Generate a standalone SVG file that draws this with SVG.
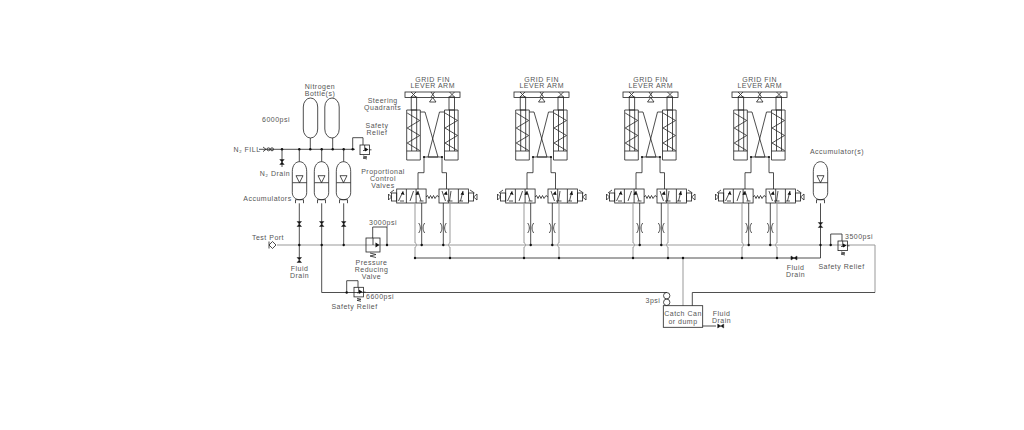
<svg xmlns="http://www.w3.org/2000/svg" width="1024" height="430" viewBox="0 0 1024 430">
<style>
.l{fill:none;stroke:#222;stroke-width:.8}
.g{fill:none;stroke:#999;stroke-width:1}
.t{fill:#555;font-family:"Liberation Sans",Arial,sans-serif;font-size:7px;letter-spacing:.5px;text-anchor:middle}
.d{fill:#111}
.b{fill:#111;stroke:#222;stroke-width:.5}
</style>
<defs>
<g id="bowV"><path class="b" d="M-2.2 -2.5H2.2L-2.2 2.5H2.2Z"/></g>
<g id="bowH"><path class="b" d="M-3 -2L3 2V-2L-3 2Z"/></g>
<g id="acc">
<path class="l" d="M-4 41.500V38H4V41.500M-7.200 21V10C-7.200 3 -3.500 0 0 0C3.500 0 7.200 3 7.200 10V31C7.200 35 4 38 0 38C-4 38 -7.200 35 -7.200 31V21ZM-7.200 21H7.200M-3.500 14H3.500L0 21Z"/>
</g>
<g id="bottle"><rect class="l" x="-7.200" y="0" width="14.400" height="40" rx="7.200" ry="9"/></g>
<g id="relief">
<rect class="l" x="0" y="0" width="9.400" height="9.600"/>
<path class="l" d="M4.700 0V5M3 5.500H6.500M9.400 4.800H11.500M3 11L7 12L3 13L7 14"/>
<path class="d" d="M5 2.500L8.500 4.500L5 6.500Z"/>
</g>
<g id="restrict"><path class="l" d="M-3 -5C-.8 -2 -.8 2 -3 5M3 -5C.8 -2 .8 2 3 5"/></g>
<g id="cyl">
<path class="l" d="M0 0H13.600V50H0ZM0 41H13.600M0.500 3L13 10.500L0.500 18L13 25.500L0.500 33L13 40.500M5 0V41M10 0V41"/>
<rect class="l" x="4.500" y="-13" width="5.500" height="13"/>
</g>
<g id="valve">
<rect class="l" x="0" y="0" width="29.400" height="14"/>
<path class="l" d="M9.700 0V14M19.400 0V14"/>
</g>
<g id="unit">
<rect class="l" x="405" y="92" width="55" height="5.500"/>
<path class="l" d="M429.500 102L432.700 97.500L436 102ZM431 92L434.500 97M434.500 92L431 97"/>
<path class="l" d="M411 92L416 97M416 92L411 97M449.500 92L454.500 97M454.500 92L449.500 97"/>
<use href="#cyl" x="406.700" y="110"/>
<use href="#cyl" x="444.500" y="110"/>
<path class="l" d="M420.300 112H425L438 157H424M444.500 112H439.500L428 157H442M424 157V172.700H418V189M442 157V172.700H446.500V189"/>
<circle class="d" cx="424" cy="157" r="1.100"/><circle class="d" cx="442" cy="157" r="1.100"/>
<use href="#valve" x="396.700" y="189"/>
<use href="#valve" x="439" y="189"/>
<path class="l" d="M403 191.500L398.500 201M410 201L413.500 191M421 201L418 191M400 201H404M419.500 201H423.500M463 191L460.500 201M442 191L445.500 201M451 191L449.500 201M447 201H452.500M459 201H463"/>
<path class="d" d="M417 191L419.500 194.500L415.500 195ZM403 191L404.500 195L401 194ZM446.500 191L447.500 195L443.500 194.500ZM463 191L464 195L460.500 194.500Z"/>
<path class="l" d="M426 197L427.500 195.500L429 198.500L430.500 195.500L432 198.500L433.500 195.500L435 198.500L437 195.500L439 197"/>
<rect class="l" x="391.500" y="193" width="5.200" height="8"/>
<rect class="l" x="468.400" y="193" width="5.200" height="8"/>
<path class="l" d="M391.500 197L388.500 194V200ZM473.600 197L477 194V200ZM470 190L474.500 193M394 190L390 193"/>
<path class="g" d="M415 203V243C417 243 417 247 415 247V258"/>
<path class="g" d="M450 203V243C448 243 448 247 450 247V258"/>
<path class="l" d="M421.700 203V245M443.300 203V245"/>
<use href="#restrict" x="421.700" y="228"/>
<use href="#restrict" x="443.300" y="228"/>
<g class="d"><circle cx="421.700" cy="245" r="1.200"/><circle cx="443.300" cy="245" r="1.200"/><circle cx="415" cy="258" r="1.200"/><circle cx="450" cy="258" r="1.200"/></g>
</g>
</defs>
<rect width="1024" height="430" fill="#fff"/>

<g id="connectors">
<path class="g" d="M277 245H875V292.500"/>
<path class="l" d="M875 292.500H692.300V305.700"/>
<path class="l" d="M415 258H820.500V203.300"/>
<path class="g" d="M683 258V305.700"/>
<path class="l" d="M259 149.300H355M282 149.300V167M310.300 138V149.300M332.700 138V149.300"/>
<path class="l" d="M299.300 149.300V161.700M321.700 149.300V161.700M343.700 149.300V161.700"/>
<path class="l" d="M299.300 203.300V258M321.700 203.300V292.500H667M343.700 203.300V245"/>
<path class="l" d="M352.700 149.300V137.700H363V145M387 245V227H372.700V238M346.700 292.500V280.700H358V287.300M830.700 245V234H842V241"/>
<path class="l" d="M702.700 326H716"/>
<use href="#bowH" x="794" y="258"/>
<use href="#bowV" x="282" y="162"/>
<use href="#bowV" x="299.300" y="224"/>
<use href="#bowV" x="321.700" y="224"/>
<use href="#bowV" x="343.700" y="224"/>
<use href="#bowV" x="299.300" y="260"/>
<use href="#bowV" x="820.500" y="225"/>
<use href="#bowH" x="720.700" y="326"/>
<path class="l" d="M263 147L266 149.300L263 151.600"/>
<circle class="l" cx="268.500" cy="149.300" r="1.500"/><circle class="l" cx="272" cy="149.300" r="1.500"/>
<g class="d">
<circle cx="282" cy="149.300" r="1.200"/><circle cx="299.300" cy="149.300" r="1.200"/><circle cx="310.300" cy="149.300" r="1.200"/><circle cx="321.700" cy="149.300" r="1.200"/><circle cx="332.700" cy="149.300" r="1.200"/><circle cx="343.700" cy="149.300" r="1.200"/><circle cx="352.700" cy="149.300" r="1.200"/>
<circle cx="299.300" cy="245" r="1.200"/><circle cx="321.700" cy="245" r="1.200"/><circle cx="343.700" cy="245" r="1.200"/><circle cx="387" cy="245" r="1.200"/><circle cx="346.700" cy="292.500" r="1.200"/><circle cx="820.500" cy="245" r="1.200"/><circle cx="830.700" cy="245" r="1.200"/><circle cx="683" cy="258" r="1.200"/>
</g>
</g>

<g id="nitrogen-bottles">
<use href="#bottle" x="310.500" y="98"/>
<use href="#bottle" x="332" y="98"/>
<text class="t" x="320" y="89">Nitrogen</text>
<text class="t" x="320" y="95.500">Bottle(s)</text>
<text class="t" x="276" y="122">6000psi</text>
</g>
<g id="fill-drain">
<text class="t" x="247" y="152">N₂ FILL</text>
<text class="t" x="275" y="175.500">N₂ Drain</text>
</g>
<g id="accumulators">
<use href="#acc" x="299.500" y="161.700"/>
<use href="#acc" x="321.500" y="161.700"/>
<use href="#acc" x="343.500" y="161.700"/>
<text class="t" x="267.500" y="200.500">Accumulators</text>
</g>
<g id="relief-top">
<use href="#relief" x="360" y="145"/>
<text class="t" x="377" y="127.500">Safety</text>
<text class="t" x="377" y="134.500">Relief</text>
</g>
<g id="labels-left">
<text class="t" x="382.700" y="103">Steering</text>
<text class="t" x="382.700" y="110">Quadrants</text>
<text class="t" x="383" y="173.500">Proportional</text>
<text class="t" x="383" y="180.500">Control</text>
<text class="t" x="383" y="187.500">Valves</text>
</g>
<g id="test-port">
<path class="l" d="M269 241.500V248.500M269 245L272.500 241.500L276 245L272.500 248.500Z"/>
<text class="t" x="268" y="239.500">Test Port</text>
</g>
<g id="fluid-drain-left">
<text class="t" x="299.500" y="270.500">Fluid</text>
<text class="t" x="299.500" y="277.500">Drain</text>
</g>
<g id="reducing-valve">
<rect class="l" x="366" y="238" width="14" height="14"/>
<path class="l" d="M373 238V245M370 253L376 254.500L370 256L376 257.500"/>
<path class="d" d="M375.500 242.500L379.500 245L375.500 247.500Z"/>
<text class="t" x="383" y="225">3000psi</text>
<text class="t" x="371.500" y="265">Pressure</text>
<text class="t" x="371.500" y="272">Reducing</text>
<text class="t" x="371.500" y="279">Valve</text>
</g>
<g id="relief-low">
<use href="#relief" x="354" y="287.300"/>
<text class="t" x="380" y="299">6600psi</text>
<text class="t" x="354.500" y="309">Safety Relief</text>
</g>
<g id="unit-1"><use href="#unit"/><text class="t" x="432.700" y="81.500">GRID FIN</text><text class="t" x="432.700" y="88">LEVER ARM</text></g>
<g id="unit-2"><use href="#unit" x="109"/><text class="t" x="541.700" y="81.500">GRID FIN</text><text class="t" x="541.700" y="88">LEVER ARM</text></g>
<g id="unit-3"><use href="#unit" x="218"/><text class="t" x="650.700" y="81.500">GRID FIN</text><text class="t" x="650.700" y="88">LEVER ARM</text></g>
<g id="unit-4"><use href="#unit" x="327"/><text class="t" x="759.700" y="81.500">GRID FIN</text><text class="t" x="759.700" y="88">LEVER ARM</text></g>
<g id="catch-can">
<rect class="l" x="663.300" y="305.700" width="39.400" height="21.600"/>
<circle class="l" cx="666.700" cy="295.700" r="3.200"/>
<circle class="l" cx="666.700" cy="302.300" r="3.200"/>
<text class="t" x="683" y="316">Catch Can</text>
<text class="t" x="683" y="323.500">or dump</text>
<text class="t" x="653" y="303">3psi</text>
<text class="t" x="721.500" y="316">Fluid</text>
<text class="t" x="721.500" y="323">Drain</text>
</g>
<g id="accumulator-right">
<use href="#acc" x="820.500" y="161.700"/>
<text class="t" x="837" y="153.500">Accumulator(s)</text>
</g>
<g id="relief-right">
<use href="#relief" x="838" y="241"/>
<text class="t" x="859" y="239">3500psi</text>
<text class="t" x="841.500" y="268.500">Safety Relief</text>
<text class="t" x="795.500" y="269.500">Fluid</text>
<text class="t" x="795.500" y="277">Drain</text>
</g>
</svg>
